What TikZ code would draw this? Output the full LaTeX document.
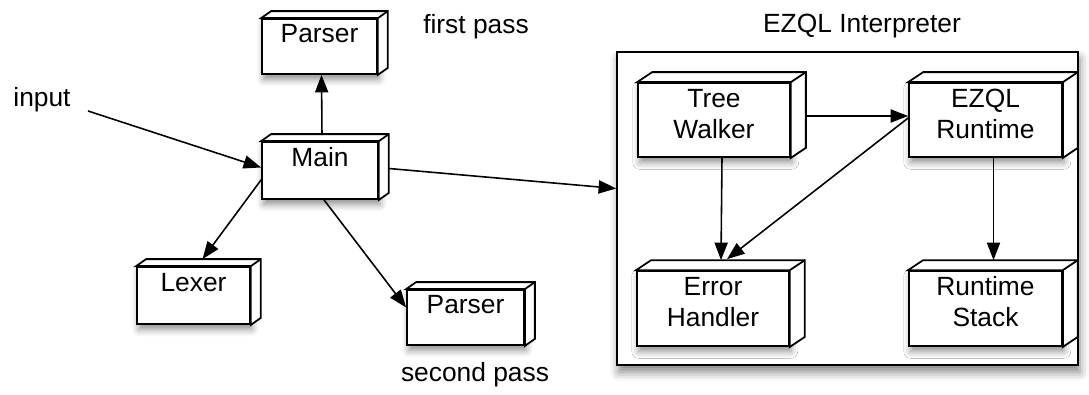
\documentclass[tikz,border=0pt]{standalone}
\usepackage{fontspec}
\setmainfont{Liberation Sans}
\usetikzlibrary{arrows.meta,calc,shadows.blur}

\tikzset{
  blk/.style={draw, line width=1pt, fill=white, align=center, inner sep=0pt,
    font=\fontsize{15}{17.5}\selectfont,
    blur shadow={shadow xshift=1pt, shadow yshift=-3pt, shadow blur radius=4pt, shadow opacity=45}},
  smallblk/.style={blk, text height=11pt, text depth=15pt},
  bigblk/.style={blk, text height=24.5pt, text depth=4pt},
  face/.style={draw, line width=1pt, fill=white},
  arr/.style={-{Triangle[length=10pt,width=7.5pt]}, line width=0.9pt},
  lbl/.style={font=\fontsize{15}{17.5}\selectfont, anchor=base, inner sep=0pt}
}

\begin{document}
\begin{tikzpicture}[x=0.02cm, y=-0.02cm]
  \useasboundingbox (0,0) rectangle (1089,395);

  % interpreter frame
  \node[draw, line width=1pt, fill=white, minimum width=9.22cm, minimum height=6.26cm,
    blur shadow={shadow xshift=1pt, shadow yshift=-4pt, shadow blur radius=5pt, shadow opacity=50}]
    (interp) at (847.5,208.5) {};
  \node[lbl] (interpLbl) at (862,33) {EZQL Interpreter};

  % front end
  \node[smallblk, minimum width=2.3cm, minimum height=1.1cm] (parsA) at (319.5,46.5) {Parser};
  \node[smallblk, minimum width=2.32cm, minimum height=1.14cm] (main) at (320,170.5) {Main};
  \node[smallblk, minimum width=2.26cm, minimum height=1.14cm] (lex) at (193.5,295.5) {Lexer};
  \node[smallblk, minimum width=2.34cm, minimum height=1.1cm] (parsB) at (465.5,317.5) {Parser};

  % interpreter parts
  \node[bigblk, minimum width=3.04cm, minimum height=1.48cm] (tw) at (714,120) {Tree\\Walker};
  \node[bigblk, minimum width=3.06cm, minimum height=1.48cm] (rt) at (985.5,120) {EZQL\\Runtime};
  \node[bigblk, minimum width=3.04cm, minimum height=1.5cm] (eh) at (713,308.5) {Error\\Handler};
  \node[bigblk, minimum width=3.06cm, minimum height=1.5cm] (rs) at (985.5,308.5) {Runtime\\Stack};

  % 3d faces
  \foreach \n/\dx/\dy in {parsA/10/-7, main/10/-7, lex/10/-7, parsB/10/-7,
                          tw/15/-10, rt/15/-10, eh/15/-10, rs/15/-10} {
    \draw[face] (\n.north west) -- ++(\dx,\dy) -- ($(\n.north east)+(\dx,\dy)$)
      -- ($(\n.south east)+(\dx,\dy)$) -- (\n.south east) -- (\n.north east) -- cycle;
    \draw[line width=1pt] (\n.north east) -- ++(\dx,\dy);
  }

  % labels
  \node[lbl] (firstLbl) at (476,34) {first pass};
  \node[lbl] (secondLbl) at (475,381) {second pass};
  \node[lbl] (inLbl) at (42,107) {input};
  \coordinate (inp) at (88,111);

  % connectors
  \draw[arr] (inp) -- ($(main.west)+(0,-3)$);
  \draw[arr] ($(main.north)+(2,-6)$) -- ($(parsA.south)+(2,0)$);
  \draw[arr] ($(main.west)+(1,8)$) -- ($(lex.north)+(9,-7)$);
  \draw[arr] ($(main.south)+(4,0)$) -- ($(parsB.west)+(0,-10)$);
  \draw[arr] ($(main.east)+(10,-2)$) -- ($(interp.west)+(0,-20)$);
  \draw[arr] ($(tw.east)+(15,-4)$) -- ($(rt.west)+(0,-4)$);
  \draw[arr] ($(tw.south)+(8,0)$) -- ($(eh.north)+(8,-10)$);
  \draw[arr] ($(rt.west)+(0,-2)$) -- ($(eh.north)+(14,-11)$);
  \draw[arr] ($(rt.south)+(8,0)$) -- ($(rs.north)+(8,-10)$);
\end{tikzpicture}
\end{document}
